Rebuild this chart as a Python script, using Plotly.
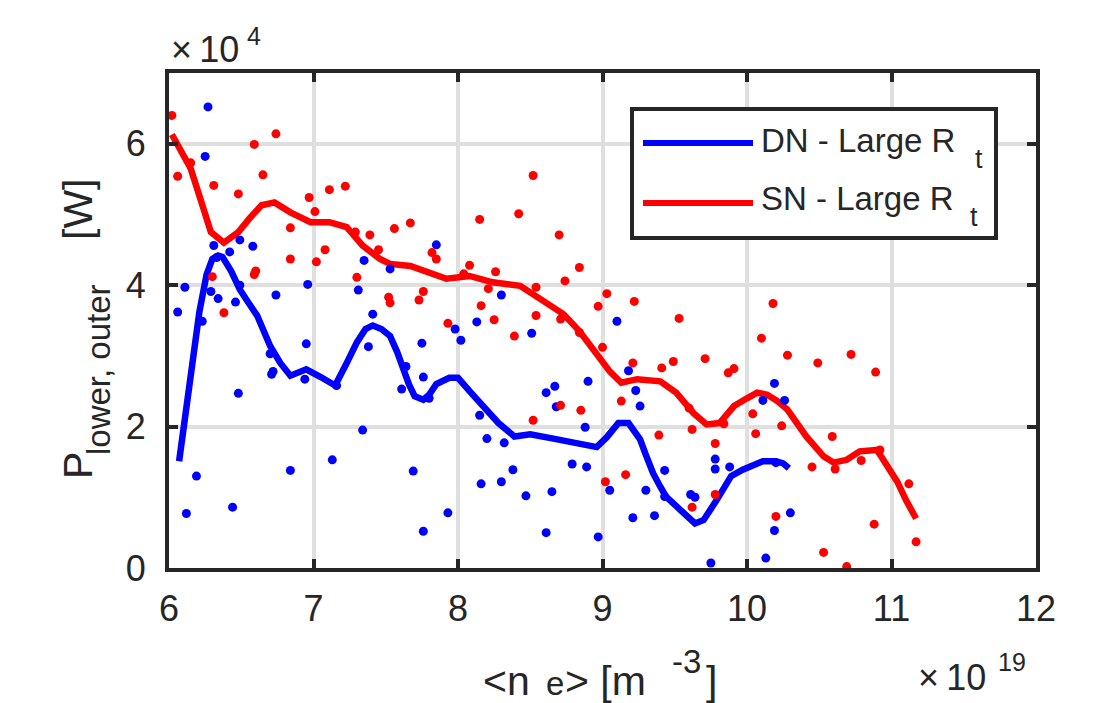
import plotly.graph_objects as go

# Line-averaged density <n_e> in units of 1e19 m^-3, power in units of 1e4 W
dn_ne = [6.27, 6.25, 6.31, 6.49, 6.58, 6.42, 6.33, 7.35, 7.53, 7.85, 6.11, 6.49, 6.96, 7.31, 6.29,
         6.34, 6.46, 6.74, 6.06, 7.41, 6.23, 6.95, 7.38, 7.75, 6.70, 6.72, 6.71, 6.94, 7.16, 7.64,
         7.76, 7.61, 7.80, 6.48, 7.34, 6.19, 6.84, 7.13, 7.69, 6.12, 6.44, 7.76, 7.93, 8.30, 8.13,
         7.98, 8.02, 8.51, 9.10, 8.15, 8.20, 8.32, 8.61, 8.67, 8.68, 8.90, 8.88, 9.18, 9.23, 9.26,
         8.38, 8.16, 8.30, 8.47, 8.65, 8.79, 8.89, 9.43, 9.05, 9.30, 9.43, 9.21, 9.36, 9.61, 9.64,
         9.78, 9.78, 9.88, 8.61, 8.97, 9.75, 10.19, 10.11, 10.26, 10.20, 10.30, 10.19, 10.13]
dn_p = [6.52, 5.82, 4.56, 4.64, 4.55, 4.47, 4.39, 4.35, 4.23, 4.57, 3.97, 4.00, 4.01, 3.93, 3.91,
        3.81, 3.76, 3.86, 3.62, 3.59, 3.49, 3.17, 3.13, 3.18, 3.03, 2.78, 2.74, 2.67, 2.58, 2.85,
        2.70, 2.53, 2.40, 2.47, 1.95, 1.30, 1.38, 1.53, 1.37, 0.77, 0.86, 0.52, 0.78, 3.86, 3.48,
        3.38, 3.22, 3.32, 3.49, 2.16, 1.83, 1.77, 2.48, 2.57, 2.28, 2.64, 1.99, 2.79, 2.51, 2.29,
        1.39, 1.19, 1.22, 1.02, 1.08, 1.47, 1.43, 1.38, 1.10, 1.10, 1.01, 0.71, 0.74, 1.04, 1.00,
        1.54, 1.40, 1.43, 0.50, 0.44, 0.07, 2.61, 2.37, 2.37, 1.49, 0.78, 0.53, 0.14]

sn_ne = [6.02, 6.59, 6.74, 6.15, 6.06, 6.65, 6.31, 6.48, 6.97, 7.11, 7.22, 7.01, 6.84, 7.29, 7.39,
         7.56, 7.67, 7.45, 7.08, 6.84, 7.02, 6.60, 6.59, 6.30, 7.30, 7.82, 7.85, 7.76, 7.52, 7.53,
         7.73, 6.38, 7.93, 8.52, 8.15, 8.42, 8.70, 8.08, 8.26, 8.04, 8.84, 8.74, 8.54, 8.21, 9.03,
         9.22, 8.97, 9.53, 8.16, 8.54, 8.25, 8.71, 8.39, 9.00, 8.84, 9.21, 9.41, 9.49, 9.71, 9.87,
         9.91, 9.13, 8.71, 8.85, 8.52, 9.60, 9.62, 9.84, 9.39, 9.78, 9.16, 9.02, 9.78, 9.62, 10.18,
         10.10, 10.28, 10.49, 10.72, 10.89, 10.04, 10.24, 10.06, 10.59, 10.45, 10.61, 10.79, 10.92,
         11.12, 10.20, 10.88, 11.17, 10.53, 10.69]
sn_p = [6.40, 5.99, 6.14, 5.73, 5.54, 5.56, 5.41, 5.29, 5.24, 5.35, 5.40, 5.04, 4.81, 4.75, 4.71,
        4.80, 4.88, 4.50, 4.50, 4.37, 4.33, 4.20, 4.15, 4.12, 4.11, 4.46, 4.37, 3.91, 3.83, 3.75,
        3.79, 3.61, 3.46, 5.55, 4.93, 5.01, 4.71, 4.28, 4.19, 4.16, 4.25, 4.06, 3.97, 3.95, 3.88,
        3.77, 3.70, 3.53, 3.71, 3.57, 3.51, 3.52, 3.28, 3.12, 3.33, 2.90, 2.83, 2.92, 2.96, 2.76,
        2.82, 2.36, 2.30, 2.23, 2.09, 2.26, 1.96, 2.04, 1.88, 1.76, 1.32, 1.22, 1.04, 0.86, 3.74,
        3.25, 3.01, 2.90, 3.02, 2.77, 2.18, 2.01, 1.90, 1.86, 1.43, 1.40, 1.52, 1.67, 1.19, 0.73,
        0.62, 0.37, 0.22, 0.02]

# Smoothed trends
dn_fit_ne = [6.07, 6.15, 6.21, 6.26, 6.30, 6.34, 6.37, 6.43, 6.49, 6.55, 6.61, 6.70, 6.77, 6.84,
             6.90, 6.95, 7.05, 7.15, 7.23, 7.30, 7.36, 7.41, 7.47, 7.53, 7.58, 7.62, 7.66, 7.70,
             7.76, 7.80, 7.85, 7.94, 8.00, 8.08, 8.18, 8.28, 8.39, 8.50, 8.66, 8.80, 8.96, 9.03,
             9.11, 9.18, 9.22, 9.26, 9.30, 9.35, 9.40, 9.44, 9.54, 9.64, 9.70, 9.75, 9.79, 9.84,
             9.89, 9.97, 10.04, 10.11, 10.20, 10.25, 10.29]
dn_fit_p = [1.51, 2.70, 3.62, 4.15, 4.37, 4.42, 4.40, 4.20, 3.94, 3.75, 3.57, 3.14, 2.90, 2.72,
            2.78, 2.81, 2.70, 2.58, 2.90, 3.19, 3.38, 3.43, 3.38, 3.28, 3.05, 2.81, 2.60, 2.43,
            2.38, 2.45, 2.60, 2.69, 2.69, 2.50, 2.27, 2.05, 1.86, 1.89, 1.83, 1.77, 1.71, 1.85,
            2.05, 2.05, 1.95, 1.82, 1.60, 1.34, 1.15, 1.01, 0.82, 0.63, 0.68, 0.82, 0.96, 1.13,
            1.30, 1.39, 1.45, 1.51, 1.51, 1.48, 1.41]

sn_fit_ne = [6.02, 6.08, 6.15, 6.22, 6.29, 6.38, 6.48, 6.56, 6.64, 6.73, 6.84, 6.98, 7.11, 7.23,
             7.34, 7.46, 7.53, 7.67, 7.78, 7.92, 8.08, 8.24, 8.43, 8.54, 8.64, 8.73, 8.84, 8.94,
             8.98, 9.05, 9.13, 9.24, 9.40, 9.51, 9.63, 9.72, 9.81, 9.91, 10.00, 10.07, 10.14,
             10.21, 10.28, 10.41, 10.53, 10.60, 10.69, 10.78, 10.90, 10.97, 11.04, 11.10, 11.17]
sn_fit_p = [6.13, 5.90, 5.65, 5.20, 4.75, 4.60, 4.75, 4.95, 5.13, 5.17, 5.03, 4.89, 4.89, 4.82,
            4.56, 4.37, 4.30, 4.27, 4.18, 4.09, 4.13, 4.04, 3.99, 3.85, 3.72, 3.59, 3.35, 3.09,
            2.95, 2.78, 2.62, 2.67, 2.64, 2.48, 2.19, 2.03, 2.05, 2.29, 2.40, 2.48, 2.45, 2.36,
            2.24, 1.86, 1.58, 1.49, 1.53, 1.65, 1.67, 1.44, 1.22, 0.96, 0.70]

x_ticks = [6, 7, 8, 9, 10, 11, 12]
y_ticks = [0, 2, 4, 6]

BLUE = "#0000ff"
RED = "#ff0000"
INK = "#262626"
FONT = "Arial, Liberation Sans, Helvetica, sans-serif"

W, H = 1093, 703
L, R, T, B = 169, 57, 73, 135
PW, PH = W - L - R, H - T - B


def px_x(px):
    return (px - L) / PW


def px_y(py):
    return (H - B - py) / PH


fig = go.Figure()
fig.add_trace(go.Scatter(x=dn_fit_ne, y=dn_fit_p, mode="lines",
                         line=dict(color=BLUE, width=6.5), name="DN - Large R_t"))
fig.add_trace(go.Scatter(x=sn_fit_ne, y=sn_fit_p, mode="lines",
                         line=dict(color=RED, width=6.5), name="SN - Large R_t"))
fig.add_trace(go.Scatter(x=dn_ne, y=dn_p, mode="markers",
                         marker=dict(color=BLUE, size=9, line=dict(width=0))))
fig.add_trace(go.Scatter(x=sn_ne, y=sn_p, mode="markers",
                         marker=dict(color=RED, size=9, line=dict(width=0))))

axis_common = dict(
    showline=True, linewidth=4, linecolor=INK, mirror="ticks",
    ticks="inside", ticklen=9, tickwidth=4, tickcolor=INK,
    showgrid=True, gridcolor="#dfdfdf", gridwidth=4, zeroline=False,
    tickfont=dict(family=FONT, size=36, color=INK),
)
fig.update_xaxes(range=[6, 12], tickvals=x_ticks, ticktext=[str(v) for v in x_ticks],
                 ticklabelstandoff=6, **axis_common)
fig.update_yaxes(range=[0, 7], tickvals=y_ticks, ticktext=[str(v) for v in y_ticks],
                 ticklabelstandoff=12, **axis_common)

annotations = []


def text_at(txt, cx, cy, size, xanchor="center", angle=0):
    annotations.append(dict(text=txt, x=px_x(cx), y=px_y(cy), xref="paper", yref="paper",
                            showarrow=False, xanchor=xanchor, yanchor="middle",
                            textangle=angle, borderpad=0,
                            font=dict(family=FONT, size=size, color=INK)))


# y-axis label pieces (rotated)
text_at("P", 78, 466, 41, angle=-90)
text_at("lower, outer", 98, 370, 33, angle=-90)
text_at("[W]", 78, 210, 41, angle=-90)

# x-axis label pieces
text_at("&lt;n", 506, 681, 41)
text_at("e", 555, 683, 33)
text_at("&gt; [m", 605, 681, 41)
text_at("-3", 686, 661, 33)
text_at("]", 711, 681, 41)

# axis exponents
text_at("×\u200910", 170, 50, 36, xanchor="left")
text_at("4", 254, 36, 25)
text_at("×\u200910", 917, 677, 36, xanchor="left")
text_at("19", 1012, 662, 25)

# legend
text_at("DN - Large R", 760, 140, 33, xanchor="left")
text_at("t", 979, 159, 27)
text_at("SN - Large R", 760, 198, 33, xanchor="left")
text_at("t", 974, 217, 27)

shapes = [
    dict(type="rect", xref="paper", yref="paper", x0=px_x(632), x1=px_x(996),
         y0=px_y(238), y1=px_y(109), line=dict(color=INK, width=4), fillcolor="white",
         layer="above"),
    dict(type="line", xref="paper", yref="paper", x0=px_x(643), x1=px_x(753),
         y0=px_y(143), y1=px_y(143), line=dict(color=BLUE, width=6), layer="above"),
    dict(type="line", xref="paper", yref="paper", x0=px_x(643), x1=px_x(753),
         y0=px_y(203), y1=px_y(203), line=dict(color=RED, width=6), layer="above"),
]

fig.update_layout(
    width=W, height=H, margin=dict(l=L, r=R, t=T, b=B, pad=0),
    paper_bgcolor="white", plot_bgcolor="white", showlegend=False,
    annotations=annotations, shapes=shapes,
)

fig.write_html("out.html")
